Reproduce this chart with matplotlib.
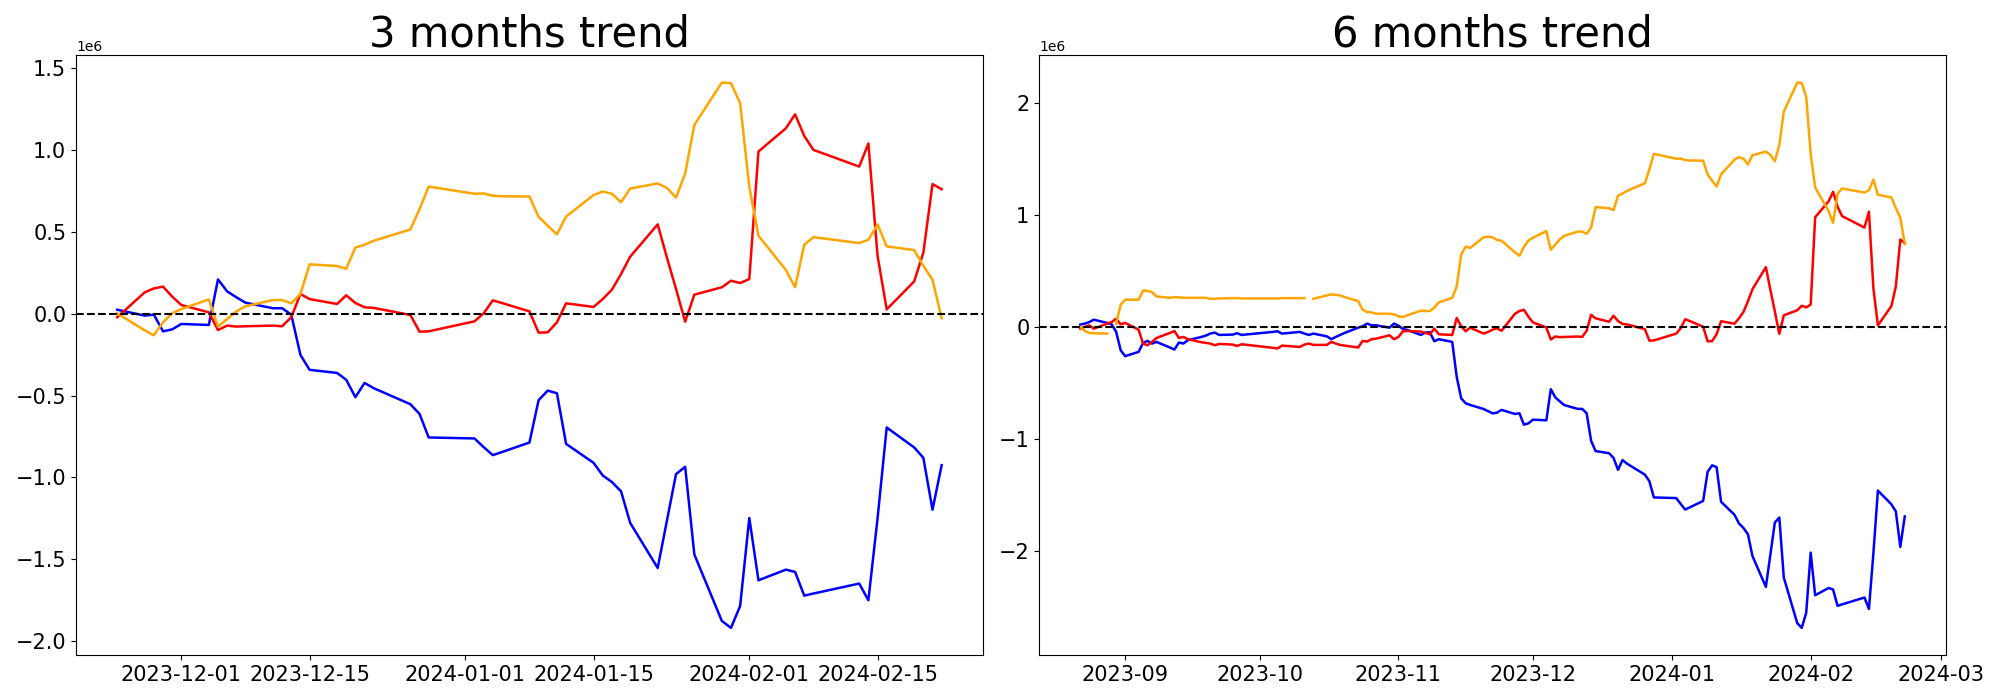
import numpy as np
import matplotlib
matplotlib.use("Agg")
import matplotlib.pyplot as plt

nan = np.nan

# ---------------- trading days ----------------
days_3m = [
    ("2023-11", [24, 27, 28, 29, 30]),
    ("2023-12", [1, 4, 5, 6, 7, 8, 11, 12, 13, 14, 15, 18, 19, 20, 21, 22, 26, 27, 28]),
    ("2024-01", [2, 3, 4, 5, 8, 9, 10, 11, 12, 15, 16, 17, 18, 19, 22, 23, 24, 25, 26, 29, 30, 31]),
    ("2024-02", [1, 2, 5, 6, 7, 8, 13, 14, 15, 16, 19, 20, 21, 22]),
]
days_6m = [
    ("2023-08", [22, 23, 24, 25, 28, 29, 30, 31]),
    ("2023-09", [1, 4, 5, 6, 7, 8, 11, 12, 13, 14, 15, 18, 19, 20, 21, 22, 25, 26, 27]),
    ("2023-10", [4, 5, 6, 10, 11, 12, 13, 16, 17, 18, 19, 20, 23, 24, 25, 26, 27, 30, 31]),
    ("2023-11", [1, 2, 3, 6, 7, 8, 9, 10, 13, 14, 15, 16, 17, 20, 21, 22, 23, 24, 27, 28, 29, 30]),
    ("2023-12", [1, 4, 5, 6, 7, 8, 11, 12, 13, 14, 15, 18, 19, 20, 21, 22, 26, 27, 28]),
    ("2024-01", [2, 3, 4, 5, 8, 9, 10, 11, 12, 15, 16, 17, 18, 19, 22, 23, 24, 25, 26, 29, 30, 31]),
    ("2024-02", [1, 2, 5, 6, 7, 8, 13, 14, 15, 16, 19, 20, 21, 22]),
]

# ---------------- 3 months values (x1e6) ----------------
blue_3m = [0.024, -0.012, -0.006, -0.108, -0.096,
           -0.063, -0.069, 0.209, 0.136, 0.100, 0.067, 0.033, 0.033, -0.006, -0.252, -0.343,
           -0.362, -0.404, -0.510, -0.423, -0.455, -0.553, -0.612, -0.756,
           -0.762, -0.815, -0.864, -0.845, -0.787, -0.528, -0.470, -0.486, -0.795, -0.911, -0.988,
           -1.028, -1.085, -1.278, -1.553, -1.266, -0.980, -0.935, -1.470, -1.876, -1.919, -1.785,
           -1.248, -1.628, -1.563, -1.577, -1.722, -1.709, -1.648, -1.750, -1.251, -0.695, -0.817,
           -0.880, -1.197, -0.925]
red_3m = [-0.022, 0.130, 0.154, 0.165, 0.104,
          0.053, 0.008, -0.100, -0.073, -0.079, -0.077, -0.073, -0.077, -0.022, 0.120, 0.089,
          0.059, 0.112, 0.065, 0.039, 0.035, -0.008, -0.110, -0.108,
          -0.047, 0.002, 0.081, 0.065, 0.014, -0.116, -0.114, -0.053, 0.063, 0.041, 0.089,
          0.146, 0.242, 0.348, 0.545, 0.344, 0.151, -0.049, 0.116, 0.161, 0.201, 0.187,
          0.211, 0.990, 1.132, 1.217, 1.085, 1.000, 0.898, 1.039, 0.354, 0.026, 0.197,
          0.372, 0.791, 0.760]
orange_3m = [0.002, -0.102, -0.132, -0.053, 0.002,
             0.028, 0.087, -0.079, -0.033, 0.014, 0.045, 0.083, 0.083, 0.063, 0.120, 0.301,
             0.291, 0.274, 0.404, 0.421, 0.445, 0.514, 0.638, 0.776,
             0.732, 0.734, 0.720, 0.717, 0.715, 0.591, 0.537, 0.484, 0.593, 0.724, 0.746,
             0.732, 0.681, 0.764, 0.795, 0.768, 0.709, 0.856, 1.152, 1.411, 1.407, 1.285,
             0.774, 0.476, 0.266, 0.161, 0.421, 0.467, 0.431, 0.451, 0.545, 0.411, 0.388,
             0.293, 0.207, -0.028]

# ---------------- 6 months values (x1e6) ----------------
blue_6m = [0.021, 0.030, 0.044, 0.065, 0.036, 0.024, -0.044, -0.207,
           -0.260, -0.222, -0.142, -0.124, -0.148, -0.133, -0.183, -0.201, -0.139, -0.148, -0.118,
           -0.089, -0.077, -0.059, -0.050, -0.071, -0.068, -0.056, -0.071,
           -0.044, -0.038, -0.059, -0.044, -0.059, -0.071, -0.059, -0.083, -0.109, -0.089, -0.071,
           -0.053, -0.006, 0.006, 0.030, 0.015, 0.015, -0.006, 0.030,
           0.012, -0.018, -0.027, -0.071, -0.050, -0.047, -0.127, -0.109, -0.133, -0.444, -0.636,
           -0.680, -0.695, -0.731, -0.750, -0.770, -0.763, -0.739, -0.775, -0.769, -0.871, -0.859,
           -0.826, -0.832, -0.554, -0.627, -0.663, -0.696, -0.730, -0.730, -0.769, -1.015, -1.106,
           -1.125, -1.167, -1.273, -1.186, -1.218, -1.316, -1.375, -1.519,
           -1.525, -1.578, -1.627, -1.608, -1.550, -1.291, -1.233, -1.249, -1.558, -1.674, -1.751,
           -1.791, -1.848, -2.041, -2.316, -2.029, -1.743, -1.698, -2.233, -2.639, -2.682, -2.548,
           -2.011, -2.391, -2.326, -2.340, -2.485, -2.472, -2.411, -2.513, -2.014, -1.458, -1.580,
           -1.643, -1.960, -1.688]
red_6m = [-0.015, 0.000, 0.015, -0.015, 0.030, 0.044, 0.074, 0.024,
          0.036, -0.024, -0.148, -0.163, -0.133, -0.098, -0.053, -0.036, -0.098, -0.089, -0.109,
          -0.136, -0.142, -0.148, -0.163, -0.151, -0.157, -0.169, -0.154,
          -0.186, -0.192, -0.166, -0.178, -0.157, -0.148, -0.160, -0.160, -0.133, -0.148, -0.160,
          -0.166, -0.183, -0.124, -0.130, -0.109, -0.104, -0.074, -0.109,
          -0.089, -0.038, -0.036, -0.041, -0.053, -0.065, -0.015, -0.065, -0.071, 0.080, 0.006,
          -0.038, -0.006, -0.059, -0.044, -0.024, -0.012, -0.034, 0.118, 0.142, 0.153, 0.092,
          0.041, -0.004, -0.112, -0.085, -0.091, -0.089, -0.085, -0.089, -0.034, 0.108, 0.077,
          0.047, 0.100, 0.053, 0.027, 0.023, -0.020, -0.122, -0.120,
          -0.059, -0.010, 0.069, 0.053, 0.002, -0.128, -0.126, -0.065, 0.051, 0.029, 0.077,
          0.134, 0.230, 0.336, 0.533, 0.332, 0.139, -0.061, 0.104, 0.149, 0.189, 0.175,
          0.199, 0.978, 1.120, 1.205, 1.073, 0.988, 0.886, 1.027, 0.342, 0.014, 0.185,
          0.360, 0.779, 0.748]
orange_6m = [0.000, -0.036, -0.053, -0.056, -0.059, nan, 0.030, 0.198,
             0.243, 0.243, 0.325, 0.320, 0.311, 0.272, 0.260, 0.266, 0.263, 0.260, 0.260,
             0.260, 0.260, 0.251, 0.251, 0.254, 0.257, 0.257, 0.254,
             0.254, 0.254, 0.257, 0.257, 0.257, nan, 0.251, 0.281, 0.290, 0.287, 0.281,
             0.266, 0.231, 0.154, 0.133, 0.130, 0.118, 0.118, 0.112,
             0.095, 0.089, 0.104, 0.145, 0.142, 0.142, 0.172, 0.219, 0.260, 0.361, 0.645,
             0.716, 0.704, 0.799, 0.805, 0.799, 0.775, 0.769, 0.665, 0.635, 0.714, 0.769,
             0.795, 0.854, 0.688, 0.734, 0.781, 0.812, 0.850, 0.850, 0.830, 0.887, 1.068,
             1.058, 1.041, 1.171, 1.188, 1.212, 1.281, 1.405, 1.543,
             1.499, 1.501, 1.487, 1.484, 1.482, 1.358, 1.304, 1.251, 1.360, 1.491, 1.513,
             1.499, 1.448, 1.531, 1.562, 1.535, 1.476, 1.623, 1.919, 2.178, 2.174, 2.052,
             1.541, 1.243, 1.033, 0.928, 1.188, 1.234, 1.198, 1.218, 1.312, 1.178, 1.155,
             1.060, 0.974, 0.739]

titles = ["3 months trend", "6 months trend"]
scale = 1e6


def build_dates(table):
    return np.array([f"{m}-{d:02d}" for m, ds in table for d in ds], dtype="datetime64[D]")


panels = [
    (build_dates(days_3m), blue_3m, red_3m, orange_3m),
    (build_dates(days_6m), blue_6m, red_6m, orange_6m),
]

fig, axes = plt.subplots(1, 2, figsize=(20, 7), dpi=100)
fig.subplots_adjust(left=0.038, right=0.973, bottom=0.064, top=0.921, wspace=0.062)

for ax, (dates, b, r, o), title in zip(axes, panels, titles):
    ax.plot(dates, np.array(b) * scale, color="blue", linewidth=1.8)
    ax.plot(dates, np.array(r) * scale, color="red", linewidth=1.8)
    ax.plot(dates, np.array(o) * scale, color="orange", linewidth=1.8)
    ax.axhline(0, color="black", linestyle="--", linewidth=1.5)
    ax.set_title(title, fontsize=30)
    ax.tick_params(axis="both", labelsize=15)

fig.savefig("out.png", dpi=100)
